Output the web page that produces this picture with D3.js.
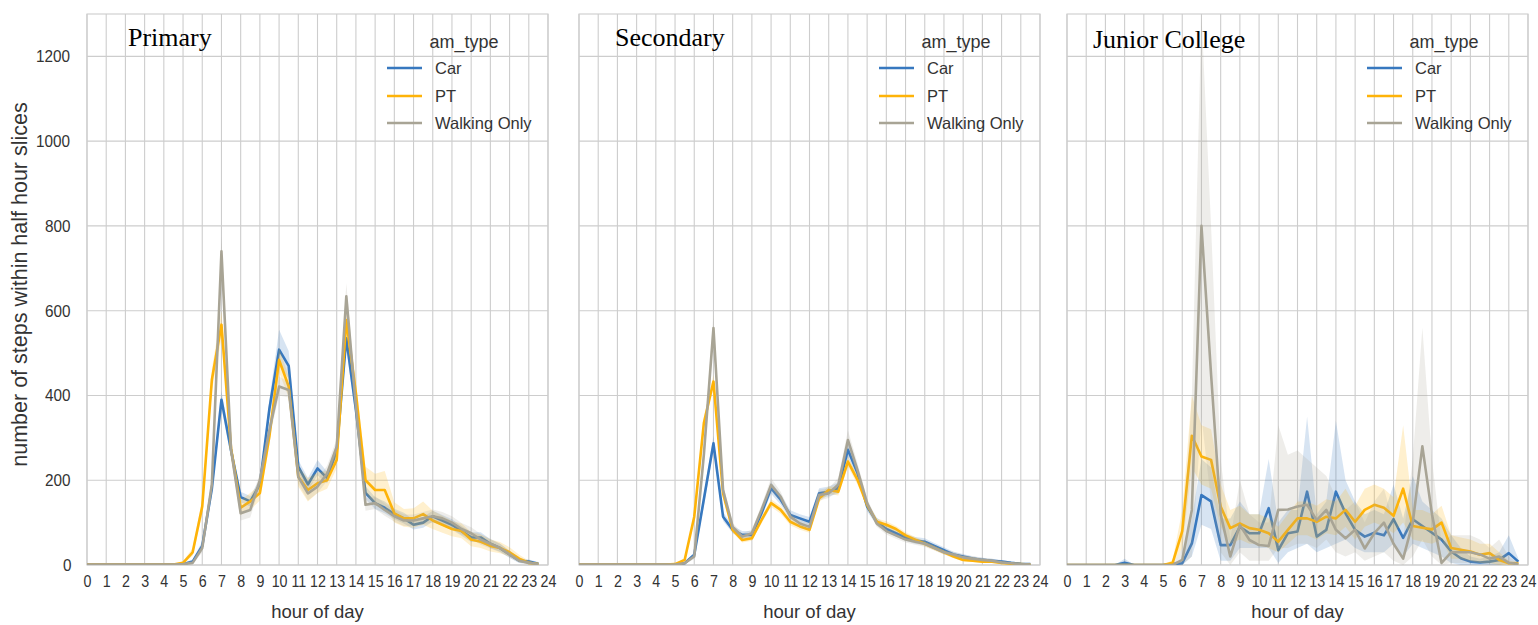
<!DOCTYPE html>
<html>
<head>
<meta charset="utf-8">
<script src="https://cdn.jsdelivr.net/npm/d3@7"></script>
<style>
  html, body { margin: 0; padding: 0; background: #fff; }
  svg { display: block; }
</style>
</head>
<body>
<svg id="chart" width="1538" height="625"></svg>
<script>
// Half-hour slots of the day
const slots = [0,0.5,1,1.5,2,2.5,3,3.5,4,4.5,5,5.5,6,6.5,7,7.5,8,8.5,9,9.5,10,10.5,11,11.5,
               12,12.5,13,13.5,14,14.5,15,15.5,16,16.5,17,17.5,18,18.5,19,19.5,20,20.5,21,21.5,22,22.5,23,23.5];

const panelNames = ["Primary", "Secondary", "Junior College"];
const seriesNames = ["Car", "PT", "Walking Only"];
const seriesColors = ["#3778bf", "#feb308", "#a8a495"];
const xTicks = [0,1,2,3,4,5,6,7,8,9,10,11,12,13,14,15,16,17,18,19,20,21,22,23,24];
const yTicks = [0,200,400,600,800,1000,1200];

// ---- Primary ----
const primaryCar     = [1,1,1,1,1,1,1,1,1,1, 2,8,45,180,390,270,160,150,190,370,508,470,232,190,228,205,270,535,366,170,146,135,120,110,95,100,115,105,95,80,65,65,50,40,25,10,8,3];
const primaryCarLo   = [0,0,0,0,0,0,0,0,0,0, 0,4,35,165,370,255,148,138,178,350,470,440,218,176,212,192,255,510,345,155,132,122,108,98,84,88,102,92,83,69,54,54,40,31,17,5,3,0];
const primaryCarHi   = [3,3,3,3,3,3,3,3,3,3, 5,13,56,196,410,286,173,163,203,392,555,505,248,205,248,220,287,560,388,186,160,150,133,123,107,113,128,118,108,92,77,77,61,50,33,16,13,7];
const primaryPT      = [1,1,1,1,1,1,1,1,1,1, 5,30,138,437,567,275,135,150,170,305,484,421,208,177,193,200,248,578,405,200,177,177,122,110,110,120,105,95,85,80,60,55,45,40,30,15,5,2];
const primaryPTLo    = [0,0,0,0,0,0,0,0,0,0, 2,22,120,410,535,255,118,130,152,285,455,395,185,150,170,180,228,545,375,170,140,140,100,90,88,95,85,76,68,63,44,40,32,28,20,8,1,0];
const primaryPTHi    = [3,3,3,3,3,3,3,3,3,3, 9,40,156,462,600,295,152,170,190,325,512,445,232,205,218,222,270,612,435,232,215,222,148,132,134,150,128,116,104,98,78,72,60,54,42,24,10,5];
const primaryWalk    = [1,1,1,1,1,1,1,1,1,1, 2,5,40,190,740,272,122,130,200,319,421,413,208,169,185,216,279,634,374,142,146,130,115,105,105,110,115,110,100,85,75,60,50,40,25,10,5,2];
const primaryWalkLo  = [0,0,0,0,0,0,0,0,0,0, 0,2,30,172,700,255,105,112,185,300,400,395,192,152,170,198,262,600,352,128,132,116,102,92,92,96,100,96,86,72,62,48,39,30,17,5,1,0];
const primaryWalkHi  = [3,3,3,3,3,3,3,3,3,3, 5,9,52,210,775,290,140,148,216,338,445,432,225,188,202,234,298,665,398,158,162,145,130,119,119,125,131,125,115,99,89,73,62,51,34,16,9,5];

// ---- Secondary ----
const secondaryCar    = [1,1,1,1,1,1,1,1,1,1, 1,4,24,155,287,114,83,71,71,122,181,154,118,110,102,169,173,181,272,217,138,102,85,75,65,58,55,45,35,25,20,15,12,10,8,5,3,2];
const secondaryCarLo  = [0,0,0,0,0,0,0,0,0,0, 0,2,18,140,270,104,75,63,63,112,168,142,108,100,92,157,162,168,255,202,127,93,77,67,57,50,47,38,28,19,14,10,7,5,4,2,0,0];
const secondaryCarHi  = [2,2,2,2,2,2,2,2,2,2, 2,7,30,170,305,125,92,80,80,133,195,167,129,120,113,181,185,195,290,232,150,112,94,84,73,66,63,52,42,31,26,20,17,15,12,8,6,4];
const secondaryPT     = [1,1,1,1,1,1,1,1,1,1, 2,12,114,335,433,169,83,59,63,106,146,130,102,91,83,157,177,173,244,201,142,102,95,85,70,60,50,40,30,20,12,10,8,8,5,3,2,1];
const secondaryPTLo   = [0,0,0,0,0,0,0,0,0,0, 0,8,104,320,418,158,76,53,57,98,137,121,94,83,76,148,168,164,232,190,133,94,87,78,63,54,44,35,25,16,9,7,5,5,3,1,0,0];
const secondaryPTHi   = [2,2,2,2,2,2,2,2,2,2, 4,16,124,350,448,180,90,65,69,114,155,139,110,99,90,166,186,182,256,212,151,110,103,92,77,66,56,45,35,24,15,13,11,11,7,5,4,2];
const secondaryWalk   = [1,1,1,1,1,1,1,1,1,1, 1,4,20,260,559,177,90,67,75,130,189,161,114,98,90,165,169,190,295,224,146,98,80,70,60,55,50,40,30,25,18,15,12,10,6,4,2,1];
const secondaryWalkLo = [0,0,0,0,0,0,0,0,0,0, 0,2,14,235,530,165,82,60,67,120,175,150,105,90,82,152,158,175,275,208,135,90,72,62,53,48,43,34,25,20,13,10,8,6,3,1,0,0];
const secondaryWalkHi = [2,2,2,2,2,2,2,2,2,2, 2,7,27,285,590,190,99,75,84,141,205,173,124,107,99,178,181,206,318,240,157,107,89,79,68,63,58,47,36,31,24,21,17,15,10,7,4,3];

// ---- Junior College ----
const juniorCar    = [0,0,0,0,0,0,5,0,0,0, 0,2,4,51,165,150,47,47,90,75,75,134,35,75,79,173,67,83,173,122,83,67,76,70,108,64,108,92,76,60,32,16,8,6,8,12,28,8];
const juniorCarLo  = [0,0,0,0,0,0,0,0,0,0, 0,0,0,20,95,85,10,10,40,40,40,40,5,30,40,50,30,40,50,60,40,30,30,30,50,20,50,40,30,20,5,0,0,0,0,0,5,0];
const juniorCarHi  = [0,0,0,0,0,0,15,0,0,0, 0,6,12,110,250,230,110,110,150,120,120,250,100,130,130,350,120,150,340,200,150,120,130,120,190,110,210,150,130,110,70,40,20,15,20,30,70,15];
const juniorPT     = [0,0,0,0,0,0,0,0,0,0, 0,5,80,305,256,248,138,87,98,87,83,75,55,83,110,110,102,114,110,130,102,130,142,135,116,180,92,88,84,100,40,36,32,24,28,12,4,4];
const juniorPTLo   = [0,0,0,0,0,0,0,0,0,0, 0,0,40,230,190,180,90,50,60,50,50,40,30,50,70,70,60,75,70,90,60,90,100,90,75,100,60,55,50,60,15,15,10,5,5,0,0,0];
const juniorPTHi   = [0,0,0,0,0,0,0,0,0,0, 0,12,130,400,330,320,190,130,140,120,120,110,90,120,150,150,140,155,150,180,140,180,190,180,160,330,130,130,120,140,70,65,60,50,50,30,10,8];
const juniorWalk   = [0,0,0,0,0,0,0,0,0,0, 0,0,12,130,800,450,120,20,94,59,47,45,130,131,138,142,106,130,83,63,83,39,75,100,50,15,100,280,120,5,30,30,30,25,15,20,5,2];
const juniorWalkLo = [0,0,0,0,0,0,0,0,0,0, 0,0,0,20,350,150,30,0,30,10,10,10,40,40,50,50,40,60,30,20,30,10,20,30,10,0,20,60,20,0,5,5,5,5,0,0,0,0];
const juniorWalkHi = [0,0,0,0,0,0,0,0,0,0, 0,0,40,400,1300,800,250,60,200,120,100,100,330,260,270,250,230,210,160,130,150,100,150,180,100,60,250,560,250,50,70,70,70,60,40,60,20,5];

const panelSeries = [
  [[primaryCar, primaryCarLo, primaryCarHi], [primaryPT, primaryPTLo, primaryPTHi], [primaryWalk, primaryWalkLo, primaryWalkHi]],
  [[secondaryCar, secondaryCarLo, secondaryCarHi], [secondaryPT, secondaryPTLo, secondaryPTHi], [secondaryWalk, secondaryWalkLo, secondaryWalkHi]],
  [[juniorCar, juniorCarLo, juniorCarHi], [juniorPT, juniorPTLo, juniorPTHi], [juniorWalk, juniorWalkLo, juniorWalkHi]]
];

// ---- layout ----
const svg = d3.select("#chart");
const panelLeft = [87, 579, 1067];
const panelWidth = 461;
const plotTop = 14, plotBottom = 565;
const gridColor = "#cdcdcd";
const textColor = "#333333";
const sans = "'Liberation Sans', Arial, sans-serif";

const y = d3.scaleLinear().domain([0, 1300]).range([plotBottom, plotTop]);

// narrow the tick glyphs horizontally around their own anchor point
function squeeze(sel, sx) {
  sel.each(function () {
    const t = d3.select(this);
    const bb = this.getBBox();
    const cx = t.attr("text-anchor") === "end" ? bb.x + bb.width : bb.x + bb.width / 2;
    t.attr("transform", `translate(${cx},0) scale(${sx},1) translate(${-cx},0)`);
  });
}

panelNames.forEach((name, p) => {
  const x0 = panelLeft[p];
  const x = d3.scaleLinear().domain([0, 24]).range([x0, x0 + panelWidth]);
  const g = svg.append("g");

  // grid
  g.selectAll("line.vg").data(xTicks).join("line")
    .attr("x1", d => x(d)).attr("x2", d => x(d))
    .attr("y1", plotTop).attr("y2", plotBottom)
    .attr("stroke", gridColor).attr("stroke-width", 1.1);
  g.selectAll("line.hg").data(yTicks).join("line")
    .attr("x1", x0).attr("x2", x0 + panelWidth)
    .attr("y1", d => y(d)).attr("y2", d => y(d))
    .attr("stroke", gridColor).attr("stroke-width", 1.1);
  g.append("rect")
    .attr("x", x0).attr("y", plotTop)
    .attr("width", panelWidth).attr("height", plotBottom - plotTop)
    .attr("fill", "none").attr("stroke", gridColor).attr("stroke-width", 1.1);

  // clip to plot area
  const clipId = "clip" + p;
  svg.append("clipPath").attr("id", clipId).append("rect")
    .attr("x", x0).attr("y", plotTop)
    .attr("width", panelWidth).attr("height", plotBottom - plotTop);
  const plot = g.append("g").attr("clip-path", `url(#${clipId})`);

  const area = d3.area()
    .x((d, i) => x(slots[i]))
    .y0(d => y(d[0]))
    .y1(d => y(d[1]));
  const line = d3.line()
    .x((d, i) => x(slots[i]))
    .y(d => y(d));

  panelSeries[p].forEach(([mean, lo, hi], s) => {
    const band = lo.map((v, i) => [v, hi[i]]);
    plot.append("path").datum(band)
      .attr("d", area)
      .attr("fill", seriesColors[s]).attr("fill-opacity", 0.2);
    plot.append("path").datum(mean)
      .attr("d", line)
      .attr("fill", "none")
      .attr("stroke", seriesColors[s]).attr("stroke-width", 2.6)
      .attr("stroke-linejoin", "round");
  });

  // x axis labels
  const xAxis = d3.axisBottom(x).tickValues(xTicks).tickSize(0).tickPadding(10).tickFormat(d3.format("d"));
  const ax = g.append("g").attr("transform", `translate(0,${plotBottom})`).call(xAxis);
  ax.select(".domain").remove();
  ax.selectAll("text").attr("font-family", sans).attr("font-size", 17).attr("fill", textColor)
    .call(squeeze, 0.84);

  g.append("text")
    .attr("x", x0 + panelWidth / 2).attr("y", 618)
    .attr("text-anchor", "middle")
    .attr("font-family", sans).attr("font-size", 18.5).attr("fill", textColor)
    .text("hour of day");

  // y axis on the first panel only
  if (p === 0) {
    const yAxis = d3.axisLeft(y).tickValues(yTicks).tickSize(0).tickPadding(15).tickFormat(d3.format("d"));
    const ay = g.append("g").attr("transform", `translate(${x0},0)`).call(yAxis);
    ay.select(".domain").remove();
    ay.selectAll("text").attr("font-family", sans).attr("font-size", 17).attr("fill", textColor)
      .call(squeeze, 0.9);
    g.append("text")
      .attr("transform", `translate(27,${(plotTop + plotBottom) / 2 - 5}) rotate(-90)`)
      .attr("text-anchor", "middle")
      .attr("font-family", sans).attr("font-size", 21.5).attr("fill", textColor)
      .text("number of steps within half hour slices");
  }

  // panel title
  const titleOffset = [41, 36, 26];
  const titleBase = [46, 46, 48];
  g.append("text")
    .attr("x", x0 + titleOffset[p]).attr("y", titleBase[p])
    .attr("font-family", "'Liberation Serif', 'Times New Roman', serif")
    .attr("font-size", 26).attr("fill", "#000")
    .text(name);

  // legend
  const lg = g.append("g").attr("transform", `translate(${x0 + 300},0)`);
  lg.append("text")
    .attr("x", 77).attr("y", 48)
    .attr("text-anchor", "middle")
    .attr("font-family", sans).attr("font-size", 18).attr("fill", textColor)
    .text("am_type");
  seriesNames.forEach((sname, s) => {
    const ly = [68, 96, 123][s];
    lg.append("line")
      .attr("x1", 0).attr("x2", 35).attr("y1", ly).attr("y2", ly)
      .attr("stroke", seriesColors[s]).attr("stroke-width", 2.6);
    lg.append("text")
      .attr("x", 48).attr("y", ly + 6)
      .attr("font-family", sans).attr("font-size", 16.5).attr("fill", textColor)
      .text(sname);
  });
});
</script>
</body>
</html>
